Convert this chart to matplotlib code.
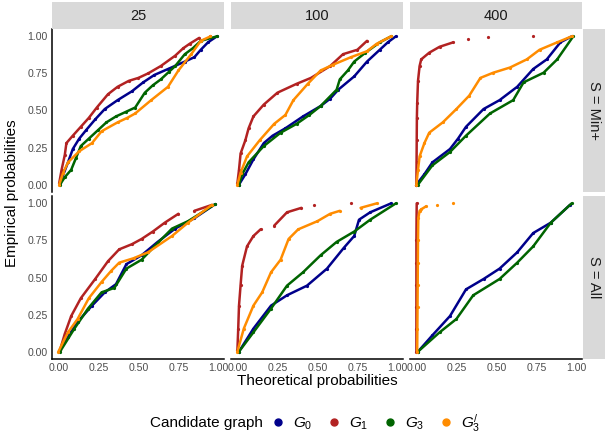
import matplotlib
matplotlib.use('Agg')
import matplotlib.pyplot as plt
from matplotlib.patches import Rectangle
from matplotlib.lines import Line2D

plt.rcParams['font.family'] = ['Liberation Sans', 'DejaVu Sans']
plt.rcParams['mathtext.fontset'] = 'custom'
plt.rcParams['mathtext.it'] = 'Liberation Sans:italic'
plt.rcParams['mathtext.rm'] = 'Liberation Sans'

# facets
sizes = ['25', '100', '400']
sets = ['S = Min+', 'S = All']
graph_labels = [r'$G_0$', r'$G_1$', r'$G_3$', r'$G_3^{/}$']
colors = ['#00008B', '#B22222', '#006400', '#FF8C00']

# (theoretical, empirical) points
min25_g0 = [(0.01,0.01),(0.06,0.15),(0.09,0.24),(0.13,0.31),(0.175,0.37),(0.23,0.44),(0.29,0.51),
            (0.37,0.57),(0.46,0.63),(0.53,0.69),(0.60,0.74),(0.685,0.78),(0.79,0.83),(0.85,0.86),
            (0.89,0.91),(0.935,0.96),(0.99,1.0)]
min25_g1 = [(0.005,0.01),(0.02,0.10),(0.04,0.20),(0.05,0.28),(0.09,0.33),(0.14,0.39),(0.19,0.45),
            (0.24,0.52),(0.31,0.61),(0.37,0.66),(0.44,0.70),(0.50,0.72),(0.56,0.75),(0.64,0.80),
            (0.73,0.87),(0.78,0.92),(0.82,0.95),(0.88,0.99),(0.95,1.0)]
min25_g3 = [(0.01,0.0),(0.04,0.05),(0.08,0.10),(0.11,0.18),(0.14,0.26),(0.19,0.31),(0.25,0.37),
            (0.30,0.42),(0.36,0.46),(0.42,0.49),(0.48,0.52),(0.54,0.62),(0.59,0.67),(0.64,0.71),
            (0.69,0.76),(0.73,0.80),(0.79,0.88),(0.84,0.92),(0.89,0.97),(0.99,1.0)]
min25_g3p = [(0.005,0.0),(0.03,0.08),(0.06,0.15),(0.13,0.225),(0.21,0.28),(0.27,0.36),(0.37,0.42),
             (0.43,0.45),(0.48,0.48),(0.58,0.57),(0.685,0.66),(0.75,0.77),(0.83,0.88),(0.89,0.97),
             (0.95,1.0)]

min100_g0 = [(0.01,0.0),(0.05,0.07),(0.10,0.17),(0.165,0.28),(0.22,0.33),(0.30,0.38),(0.41,0.46),
             (0.52,0.53),(0.58,0.58),(0.63,0.64),(0.73,0.73),(0.81,0.83),(0.89,0.91),(0.94,0.96),
             (0.99,1.0)]
min100_g1 = [(0.0,0.01),(0.01,0.10),(0.02,0.21),(0.05,0.30),(0.07,0.38),(0.10,0.46),(0.165,0.54),
             (0.25,0.62),(0.37,0.68),(0.46,0.72),(0.58,0.80),(0.66,0.88),(0.75,0.91),(0.81,0.97)]
min100_g3 = [(0.01,0.0),(0.03,0.07),(0.07,0.15),(0.165,0.26),(0.27,0.35),(0.37,0.41),(0.45,0.47),
             (0.52,0.53),(0.62,0.64),(0.64,0.71),(0.69,0.77),(0.73,0.83),(0.80,0.89),(0.89,0.96),
             (0.96,1.0)]
min100_g3p = [(0.0,0.0),(0.02,0.08),(0.06,0.19),(0.14,0.30),(0.23,0.41),(0.30,0.47),(0.35,0.57),
              (0.44,0.68),(0.52,0.77),(0.60,0.81),(0.71,0.86),(0.81,0.90),(0.87,0.95),(0.96,1.0)]

min400_g0 = [(0.0,0.0),(0.05,0.07),(0.10,0.15),(0.21,0.24),(0.26,0.31),(0.31,0.39),(0.42,0.51),
             (0.52,0.57),(0.63,0.66),(0.73,0.78),(0.815,0.845),(0.90,0.96),(0.97,1.0)]
min400_g1 = [(0.0,0.0),(0.001,0.15),(0.002,0.3),(0.003,0.45),(0.005,0.55),(0.01,0.70),(0.02,0.80),
             (0.03,0.845),(0.08,0.89),(0.145,0.93),(0.23,0.96),(0.32,0.98),(0.45,0.998),(0.73,1.0)]
min400_g3 = [(0.01,0.0),(0.10,0.13),(0.21,0.22),(0.31,0.33),(0.46,0.48),(0.605,0.57),(0.67,0.69),
             (0.795,0.755),(0.88,0.845),(0.98,1.0)]
min400_g3p = [(0.0,0.0),(0.01,0.10),(0.02,0.19),(0.05,0.28),(0.08,0.35),(0.165,0.42),(0.25,0.51),
              (0.33,0.60),(0.40,0.72),(0.48,0.755),(0.585,0.79),(0.69,0.845),(0.77,0.91),
              (0.88,0.96),(0.97,1.0)]

all25_g0 = [(0.01,0.01),(0.06,0.10),(0.12,0.20),(0.21,0.31),(0.29,0.40),(0.36,0.455),(0.425,0.59),
            (0.52,0.65),(0.62,0.74),(0.73,0.83),(0.85,0.90),(0.98,0.995)]
all25_g1 = [(0.01,0.01),(0.04,0.12),(0.08,0.24),(0.14,0.36),(0.23,0.49),(0.31,0.61),(0.38,0.69),
            (0.46,0.725),(0.52,0.76),(0.59,0.81),(0.665,0.87),(0.75,0.93),(0.85,0.95),(0.96,0.99)]
all25_g3 = [(0.01,0.0),(0.10,0.155),(0.185,0.29),(0.27,0.40),(0.35,0.43),(0.425,0.56),(0.52,0.62),
            (0.60,0.71),(0.71,0.83),(0.81,0.88),(0.98,0.995)]
all25_g3p = [(0.0,0.0),(0.06,0.13),(0.12,0.22),(0.19,0.36),(0.27,0.47),(0.33,0.545),(0.38,0.60),
             (0.47,0.63),(0.56,0.67),(0.71,0.78),(0.81,0.87),(0.96,0.99)]

all100_g0 = [(0.01,0.0),(0.10,0.155),(0.21,0.31),(0.31,0.38),(0.435,0.445),(0.56,0.56),(0.665,0.70),
             (0.73,0.78),(0.76,0.89),(0.83,0.94),(0.96,1.0)]
all100_g1 = [(0.0,0.01),(0.005,0.15),(0.01,0.31),(0.02,0.45),(0.03,0.58),(0.06,0.71),(0.10,0.78),
             (0.145,0.825),(0.23,0.85),(0.31,0.94),(0.40,0.97),(0.48,0.99),(0.71,1.0)]
all100_g3 = [(0.01,0.0),(0.10,0.13),(0.21,0.29),(0.31,0.445),(0.41,0.535),(0.52,0.65),(0.62,0.74),
             (0.73,0.81),(0.83,0.89),(0.99,1.0)]
all100_g3p = [(0.0,0.0),(0.04,0.155),(0.10,0.31),(0.155,0.40),(0.21,0.535),(0.27,0.62),(0.32,0.76),
              (0.38,0.825),(0.50,0.88),(0.58,0.93),(0.64,0.95),(0.77,0.97),(0.87,1.0)]

all400_g0 = [(0.01,0.0),(0.10,0.11),(0.21,0.24),(0.31,0.42),(0.42,0.49),(0.52,0.56),(0.63,0.67),
             (0.73,0.80),(0.84,0.87),(0.96,0.99)]
all400_g1 = [(0.0,0.0),(0.0,0.15),(0.0,0.3),(0.0,0.45),(0.0,0.6),(0.0,0.75),(0.001,0.9),(0.002,1.0)]
all400_g3 = [(0.01,0.0),(0.145,0.13),(0.25,0.22),(0.355,0.38),(0.52,0.49),(0.63,0.60),(0.73,0.71),
             (0.84,0.87),(0.97,1.0)]
all400_g3p = [(0.005,0.0),(0.006,0.15),(0.007,0.3),(0.008,0.45),(0.009,0.6),(0.01,0.75),(0.012,0.9),
              (0.02,0.95),(0.03,0.96),(0.06,0.98),(0.13,0.99),(0.23,1.0)]

panels = [[[min25_g0, min25_g1, min25_g3, min25_g3p],
           [min100_g0, min100_g1, min100_g3, min100_g3p],
           [min400_g0, min400_g1, min400_g3, min400_g3p]],
          [[all25_g0, all25_g1, all25_g3, all25_g3p],
           [all100_g0, all100_g1, all100_g3, all100_g3p],
           [all400_g0, all400_g1, all400_g3, all400_g3p]]]

W, H = 605, 436
fig = plt.figure(figsize=(W / 100, H / 100), dpi=100)

col_left = [52, 231, 410]
panel_w = 172
row_top = [29, 196]
panel_h = 163
strip_grey = '#D9D9D9'

def box(l, t, w, h):
    return [l / W, 1 - (t + h) / H, w / W, h / H]

def draw_seg(ax, seg, col):
    ax.plot([s[0] for s in seg], [s[1] for s in seg], '-', color=col, lw=1.8,
            solid_capstyle='round')

for r in range(2):
    for c in range(3):
        ax = fig.add_axes(box(col_left[c], row_top[r], panel_w, panel_h))
        for k in range(4):
            pts = panels[r][c][k]
            # flat stretches are sparse points: do not join them
            seg = [pts[0]]
            for p in pts[1:]:
                q = seg[-1]
                dx, dy = p[0] - q[0], p[1] - q[1]
                if dx > 0.06 and dy / dx < 0.3:
                    draw_seg(ax, seg, colors[k])
                    seg = []
                seg.append(p)
            draw_seg(ax, seg, colors[k])
            ax.plot([p[0] for p in pts], [p[1] for p in pts], 'o', color=colors[k], ms=2.3, mew=0)
        ax.set_xlim(-0.04, 1.035)
        ax.set_ylim(-0.05, 1.05)
        for s in ['top', 'right']:
            ax.spines[s].set_visible(False)
        ax.set_xticks([0, 0.25, 0.5, 0.75, 1.0])
        ax.set_yticks([0, 0.25, 0.5, 0.75, 1.0])
        ax.tick_params(length=0, pad=3, labelsize=7.6, labelcolor='#4D4D4D')
        ax.set_xticklabels(['0.00', '0.25', '0.50', '0.75', '1.00'])
        ax.set_yticklabels(['0.00', '0.25', '0.50', '0.75', '1.00'])
        if r == 0:
            ax.spines['bottom'].set_visible(False)
            ax.set_xticklabels([])
        if c > 0:
            ax.spines['left'].set_visible(False)
            ax.set_yticklabels([])
        for s in ['left', 'bottom']:
            ax.spines[s].set_linewidth(1.1)

# top strips
for c in range(3):
    sax = fig.add_axes(box(col_left[c], 2, panel_w, 27))
    sax.add_patch(Rectangle((0, 0), 1, 1, color=strip_grey, transform=sax.transAxes))
    sax.text(0.5, 0.5, sizes[c], ha='center', va='center', fontsize=10.5, color='#1A1A1A')
    sax.axis('off')

# right strips
for r in range(2):
    sax = fig.add_axes(box(583, row_top[r], 22, panel_h))
    sax.add_patch(Rectangle((0, 0), 1, 1, color=strip_grey, transform=sax.transAxes))
    sax.text(0.5, 0.5, sets[r], ha='center', va='center', fontsize=10.5, color='#1A1A1A',
             rotation=-90)
    sax.axis('off')

fig.text(12 / W, 1 - 193 / H, 'Empirical probabilities', rotation=90, ha='center', va='center',
         fontsize=11)
fig.text(317 / W, 1 - 381 / H, 'Theoretical probabilities', ha='center', va='center', fontsize=11)

fig.text(150 / W, 1 - 423 / H, 'Candidate graph', ha='left', va='center', fontsize=11)
handles = [Line2D([], [], marker='o', ls='', color=col, ms=5) for col in colors]
fig.legend(handles, graph_labels, loc='center left', bbox_to_anchor=(272 / W, 1 - 423 / H),
           ncol=4, frameon=False, fontsize=11, handlelength=0.8, handletextpad=0.6,
           columnspacing=1.0, borderpad=0, borderaxespad=0)

fig.savefig('out.png', dpi=100)
